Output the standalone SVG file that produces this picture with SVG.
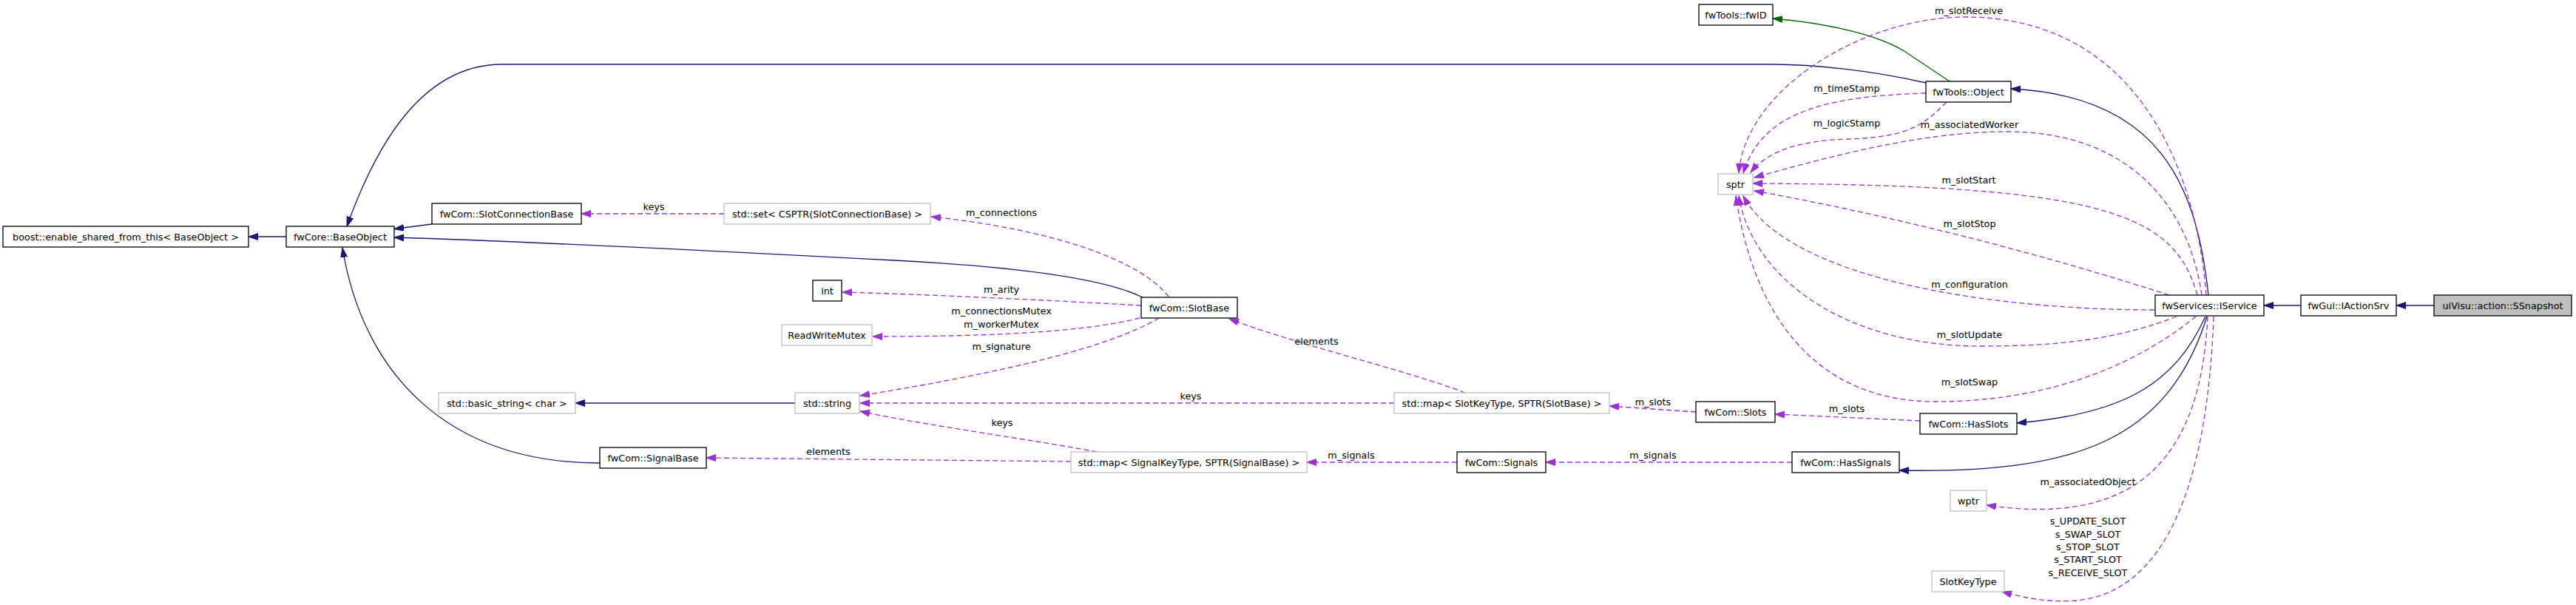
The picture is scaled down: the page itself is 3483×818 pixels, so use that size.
<svg xmlns="http://www.w3.org/2000/svg" width="3483" height="818" viewBox="0 0 3483 818">
<style>
.n rect{fill:#fff;stroke:#000;stroke-width:1.3}
.g rect{fill:#fff;stroke:#bfbfbf;stroke-width:1.3}
.sel rect{fill:#bfbfbf}
text{font-family:"DejaVu Sans",sans-serif;font-size:12.8px;fill:#000;text-anchor:middle}
.inh{fill:none;stroke:#191970;stroke-width:1.3;marker-end:url(#ab)}
.use{fill:none;stroke:#9a32cd;stroke-width:1.3;stroke-dasharray:7,4;marker-end:url(#ap)}
.tpl{fill:none;stroke:#006400;stroke-width:1.3;marker-end:url(#ag)}
</style>
<defs>
<marker id="ab" viewBox="0 0 14 10" markerWidth="14" markerHeight="10" refX="13" refY="4.5" orient="auto" markerUnits="userSpaceOnUse"><path d="M0,0 L13,4.5 L0,9 z" fill="#191970" stroke="#191970" stroke-width="1"/></marker>
<marker id="ap" viewBox="0 0 14 10" markerWidth="14" markerHeight="10" refX="13" refY="4.5" orient="auto" markerUnits="userSpaceOnUse"><path d="M0,0 L13,4.5 L0,9 z" fill="#9a32cd" stroke="#9a32cd" stroke-width="1"/></marker>
<marker id="ag" viewBox="0 0 14 10" markerWidth="14" markerHeight="10" refX="13" refY="4.5" orient="auto" markerUnits="userSpaceOnUse"><path d="M0,0 L13,4.5 L0,9 z" fill="#006400" stroke="#006400" stroke-width="1"/></marker>
</defs>
<rect width="3483" height="818" fill="#fff"/>
<g id="connectors">
<path class="inh" d="M387,320 L336,320"/>
<path class="inh" d="M584,303 L533,309.5"/>
<path class="inh" d="M1545,402 C1500,380 1400,362 1209,352 C1000,341 700,326 533,321"/>
<path class="inh" d="M2604,112 C2530,95 2450,87 2397,87 L679,87 C560,87 500,220 469,306"/>
<path class="inh" d="M811,626 C600,626 490,500 463,335"/>
<path class="inh" d="M1075,545 L778,545"/>
<path class="inh" d="M2986,399 C2970,250 2920,130 2719,120"/>
<path class="inh" d="M2982,428 C2940,520 2870,560 2727,572"/>
<path class="inh" d="M2984,428 C2930,600 2800,640 2568,636"/>
<path class="inh" d="M3111,413 L3061,413"/>
<path class="inh" d="M3291,413 L3240,413"/>
<path class="tpl" d="M2636,110 L2576,70 C2545,50 2480,32 2397,25"/>
<path class="use" d="M979,289 L786,289"/>
<text x="884" y="284">keys</text>
<path class="use" d="M1580,401 C1540,350 1420,310 1259,293"/>
<text x="1354" y="292">m_connections</text>
<path class="use" d="M1543,413 C1400,405 1250,398 1139,395"/>
<text x="1354" y="396">m_arity</text>
<path class="use" d="M1541,430 C1470,448 1350,455 1180,455"/>
<text x="1354" y="425">m_connectionsMutex</text>
<text x="1354" y="443">m_workerMutex</text>
<path class="use" d="M1567,430 C1500,470 1350,505 1163,535"/>
<text x="1354" y="473">m_signature</text>
<path class="use" d="M1885,545 L1163,545"/>
<text x="1610" y="540">keys</text>
<path class="use" d="M1483,611 C1400,595 1250,575 1163,556"/>
<text x="1355" y="576">keys</text>
<path class="use" d="M1448,624 L955,619"/>
<text x="1120" y="615">elements</text>
<path class="use" d="M1981,531 C1900,500 1750,465 1662,431"/>
<text x="1780" y="466">elements</text>
<path class="use" d="M2293,557 L2176,549"/>
<text x="2235" y="548">m_slots</text>
<path class="use" d="M2596,569 L2400,560"/>
<text x="2497" y="557">m_slots</text>
<path class="use" d="M1970,625 L1767,625"/>
<text x="1827" y="620">m_signals</text>
<path class="use" d="M2423,625 L2090,625"/>
<text x="2235" y="620">m_signals</text>
<path class="use" d="M2985,428 C2975,640 2870,710 2686,683"/>
<text x="2823" y="656">m_associatedObject</text>
<path class="use" d="M2993,428 C2985,650 2930,800 2808,812 C2770,815 2735,808 2707,800"/>
<text x="2823" y="709">s_UPDATE_SLOT</text>
<text x="2823" y="727">s_SWAP_SLOT</text>
<text x="2823" y="744">s_STOP_SLOT</text>
<text x="2823" y="761">s_START_SLOT</text>
<text x="2823" y="779">s_RECEIVE_SLOT</text>
<path class="use" d="M2983,399 C2970,230 2890,23 2657,23 C2520,23 2360,120 2351,234"/>
<text x="2662" y="19">m_slotReceive</text>
<path class="use" d="M2604,126 C2450,130 2380,160 2357,234"/>
<text x="2497" y="124">m_timeStamp</text>
<path class="use" d="M2632,138 C2600,170 2580,185 2500,188 C2430,190 2390,205 2367,233"/>
<text x="2497" y="171">m_logicStamp</text>
<path class="use" d="M2977,399 C2960,280 2880,178 2714,178 C2600,178 2480,210 2372,240"/>
<text x="2663" y="173">m_associatedWorker</text>
<path class="use" d="M2971,399 C2940,290 2850,250 2370,248"/>
<text x="2662" y="248">m_slotStart</text>
<path class="use" d="M2933,399 C2750,340 2550,290 2372,258"/>
<text x="2663" y="307">m_slotStop</text>
<path class="use" d="M2913,419 C2700,419 2420,380 2357,265"/>
<text x="2663" y="389">m_configuration</text>
<path class="use" d="M2943,428 C2860,460 2780,468 2678,468 C2500,468 2370,380 2351,265"/>
<text x="2663" y="457">m_slotUpdate</text>
<path class="use" d="M2969,428 C2880,500 2760,543 2617,543 C2450,543 2370,420 2347,265"/>
<text x="2663" y="521">m_slotSwap</text>
</g>
<g id="n_ssnapshot" class="n sel"><rect x="3291" y="399" width="186" height="28"/><text x="3384" y="417.5">uiVisu::action::SSnapshot</text></g>
<g id="n_iactionsrv" class="n"><rect x="3111" y="399" width="129" height="28"/><text x="3175.5" y="417.5">fwGui::IActionSrv</text></g>
<g id="n_iservice" class="n"><rect x="2914" y="399" width="147" height="28"/><text x="2987.5" y="417.5">fwServices::IService</text></g>
<g id="n_object" class="n"><rect x="2604" y="110" width="115" height="28"/><text x="2661.5" y="128.5">fwTools::Object</text></g>
<g id="n_fwid" class="n"><rect x="2297" y="6" width="100" height="28"/><text x="2347" y="24.5">fwTools::fwID</text></g>
<g id="n_baseobject" class="n"><rect x="387" y="306" width="146" height="28"/><text x="460" y="324.5">fwCore::BaseObject</text></g>
<g id="n_boost" class="n"><rect x="4" y="306" width="332" height="28"/><text x="170" y="324.5">boost::enable_shared_from_this&lt; BaseObject &gt;</text></g>
<g id="n_slotconnectionbase" class="n"><rect x="584" y="275" width="202" height="28"/><text x="685" y="293.5">fwCom::SlotConnectionBase</text></g>
<g id="n_stdset" class="g"><rect x="979" y="275" width="279" height="28"/><text x="1118.5" y="293.5">std::set&lt; CSPTR(SlotConnectionBase) &gt;</text></g>
<g id="n_slotbase" class="n"><rect x="1543" y="402" width="130" height="28"/><text x="1608" y="420.5">fwCom::SlotBase</text></g>
<g id="n_int" class="n"><rect x="1099" y="379" width="39" height="28"/><text x="1118.5" y="397.5">int</text></g>
<g id="n_rwmutex" class="g"><rect x="1057" y="439" width="122" height="28"/><text x="1118" y="457.5">ReadWriteMutex</text></g>
<g id="n_stdstring" class="g"><rect x="1075" y="531" width="87" height="28"/><text x="1118.5" y="549.5">std::string</text></g>
<g id="n_basicstring" class="g"><rect x="593" y="531" width="185" height="28"/><text x="685.5" y="549.5">std::basic_string&lt; char &gt;</text></g>
<g id="n_signalbase" class="n"><rect x="811" y="605" width="144" height="28"/><text x="883" y="623.5">fwCom::SignalBase</text></g>
<g id="n_mapsignal" class="g"><rect x="1448" y="611" width="319" height="28"/><text x="1607.5" y="629.5">std::map&lt; SignalKeyType, SPTR(SignalBase) &gt;</text></g>
<g id="n_mapslot" class="g"><rect x="1885" y="531" width="291" height="28"/><text x="2030.5" y="549.5">std::map&lt; SlotKeyType, SPTR(SlotBase) &gt;</text></g>
<g id="n_slots" class="n"><rect x="2293" y="543" width="107" height="28"/><text x="2346.5" y="561.5">fwCom::Slots</text></g>
<g id="n_signals" class="n"><rect x="1970" y="611" width="120" height="28"/><text x="2030" y="629.5">fwCom::Signals</text></g>
<g id="n_hasslots" class="n"><rect x="2596" y="559" width="131" height="28"/><text x="2661.5" y="577.5">fwCom::HasSlots</text></g>
<g id="n_hassignals" class="n"><rect x="2423" y="611" width="145" height="28"/><text x="2495.5" y="629.5">fwCom::HasSignals</text></g>
<g id="n_sptr" class="g"><rect x="2323" y="235" width="47" height="28"/><text x="2346.5" y="253.5">sptr</text></g>
<g id="n_wptr" class="g"><rect x="2637" y="663" width="49" height="28"/><text x="2661.5" y="681.5">wptr</text></g>
<g id="n_slotkeytype" class="g"><rect x="2612" y="772" width="98" height="28"/><text x="2661" y="790.5">SlotKeyType</text></g>
</svg>
